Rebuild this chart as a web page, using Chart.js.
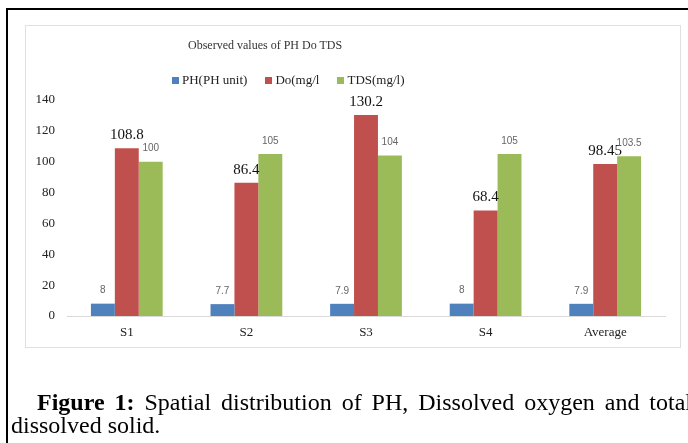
<!DOCTYPE html>
<html>
<head>
<meta charset="utf-8">
<script src="https://cdn.jsdelivr.net/npm/chart.js@4.4.0/dist/chart.umd.min.js"></script>
<style>
  html, body { margin: 0; padding: 0; width: 688px; height: 443px; overflow: hidden; background: #fff; }
  body { position: relative; font-family: 'Liberation Serif', 'Times New Roman', serif; }
  #frame { position: absolute; left: 6px; top: 8px; width: 720px; height: 460px;
           border-top: 2px solid #000; border-left: 2px solid #000; }
  #box { position: absolute; left: 25px; top: 25px; width: 654px; height: 321px; border: 1px solid #e0e0e0; }
  #chart { position: absolute; left: 0; top: 0; }
  #title { position: absolute; left: 188px; top: 38px; font-size: 12px; color: #333; white-space: nowrap; }
  #legend { position: absolute; left: 172px; top: 72px; font-size: 13px; color: #222; display: flex; white-space: nowrap; }
  #legend span.item { display: flex; align-items: center; margin-right: 18px; }
  #legend span.sw { display: inline-block; width: 7px; height: 7px; margin-right: 3px; }
  #caption { position: absolute; left: 11px; top: 391px; width: 681px; font-size: 24px; line-height: 23px; color: #000; }
  #caption .l1 { text-indent: 26px; text-align: justify; text-align-last: justify; white-space: normal; }
</style>
</head>
<body>
<div id="frame"></div>
<div id="box"></div>
<canvas id="chart" width="688" height="443"></canvas>
<div id="title">Observed values of PH Do TDS</div>
<div id="legend"></div>
<div id="caption">
  <div class="l1"><b>Figure 1:</b> Spatial distribution of PH, Dissolved oxygen and total</div>
  <div>dissolved solid.</div>
</div>
<script>
const categories = ['S1', 'S2', 'S3', 'S4', 'Average'];
const seriesNames = ['PH(PH unit)', 'Do(mg/l', 'TDS(mg/l)'];
const phValues = [8, 7.7, 7.9, 8, 7.9];
const doValues = [108.8, 86.4, 130.2, 68.4, 98.45];
const tdsValues = [100, 105, 104, 105, 103.5];
const yTicks = [0, 20, 40, 60, 80, 100, 120, 140];

const serif = "'Liberation Serif', 'Times New Roman', serif";
const colors = ['#4F81BD', '#C0504D', '#9BBB59'];

// small labels over the bars, styled per series
const labelStyle = [
  { font: "10px 'Liberation Sans', Arial, sans-serif", color: '#666' },
  { font: "15px " + serif, color: '#111' },
  { font: "10px 'Liberation Sans', Arial, sans-serif", color: '#666' }
];

const barLabels = {
  id: 'barLabels',
  afterDatasetsDraw(chart) {
    const ctx = chart.ctx;
    chart.data.datasets.forEach((ds, i) => {
      const meta = chart.getDatasetMeta(i);
      ctx.save();
      ctx.font = labelStyle[i].font;
      ctx.fillStyle = labelStyle[i].color;
      ctx.textAlign = 'center';
      ctx.textBaseline = 'middle';
      meta.data.forEach((bar, j) => {
        ctx.fillText(String(ds.data[j]), bar.x, bar.y - 13);
      });
      ctx.restore();
    });
  }
};

const chart = new Chart(document.getElementById('chart'), {
  type: 'bar',
  data: {
    labels: categories,
    datasets: [
      { label: seriesNames[0], data: phValues, backgroundColor: colors[0] },
      { label: seriesNames[1], data: doValues, backgroundColor: colors[1] },
      { label: seriesNames[2], data: tdsValues, backgroundColor: colors[2] }
    ]
  },
  options: {
    responsive: false,
    animation: false,
    layout: { padding: { left: 0, right: 23, top: 100, bottom: 93 } },
    datasets: { bar: { categoryPercentage: 0.6, barPercentage: 1.0, borderWidth: 0 } },
    plugins: {
      legend: { display: false },
      title: { display: false },
      tooltip: { enabled: false }
    },
    scales: {
      x: {
        grid: { display: false, drawTicks: false },
        border: { display: true, color: '#d9d9d9', width: 1 },
        ticks: { font: { family: serif, size: 13 }, color: '#222', padding: 9 },
        afterFit(scale) { scale.height = 34; }
      },
      y: {
        min: 0,
        max: 140,
        afterBuildTicks(scale) { scale.ticks = yTicks.map(v => ({ value: v })); },
        grid: { display: false, drawTicks: false },
        border: { display: false },
        ticks: { font: { family: serif, size: 13 }, color: '#222', padding: 12 },
        afterFit(scale) { scale.width = 67; }
      }
    }
  },
  plugins: [barLabels]
});

// html legend from the chart's datasets
const legend = document.getElementById('legend');
chart.data.datasets.forEach(ds => {
  const item = document.createElement('span');
  item.className = 'item';
  const sw = document.createElement('span');
  sw.className = 'sw';
  sw.style.background = ds.backgroundColor;
  item.appendChild(sw);
  item.appendChild(document.createTextNode(ds.label));
  legend.appendChild(item);
});
</script>
</body>
</html>
